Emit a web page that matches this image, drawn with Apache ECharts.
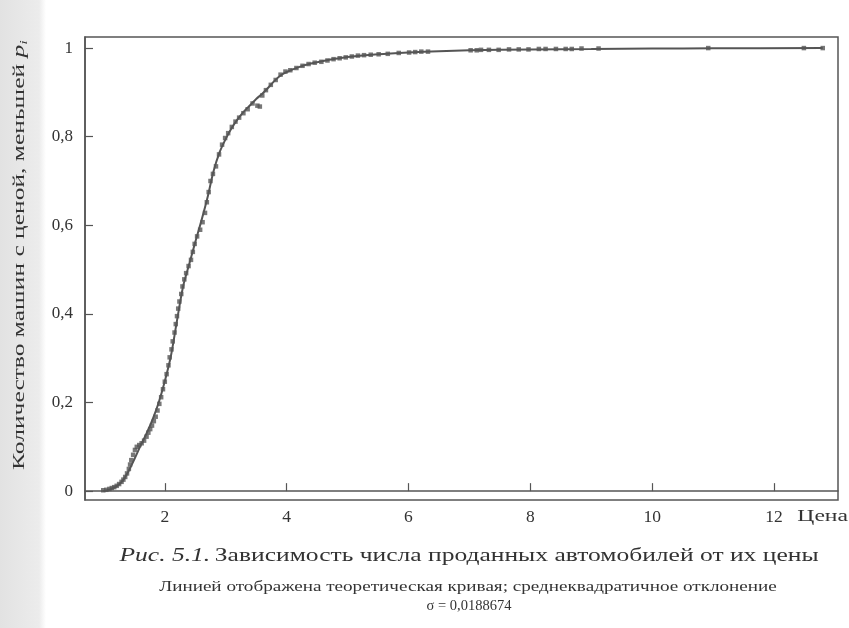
<!DOCTYPE html>
<html>
<head>
<meta charset="utf-8">
<script src="https://cdn.jsdelivr.net/npm/echarts@6/dist/echarts.min.js"></script>
<style>html,body{margin:0;padding:0;background:#fff}#c{width:849px;height:628px}</style>
</head>
<body>
<div id="c"></div>
<script>
// Observed points: price and share of cars with a lower price
var obsPrice = [0.99,1.04,1.09,1.13,1.17,1.21,1.25,1.29,1.32,1.35,1.38,1.41,1.43,1.45,1.48,1.51,1.54,1.58,1.62,1.66,1.70,1.73,1.76,1.79,1.82,1.85,1.88,1.91,1.94,1.97,2.00,2.03,2.06,2.08,2.11,2.13,2.16,2.18,2.20,2.22,2.24,2.27,2.29,2.32,2.35,2.39,2.43,2.46,2.49,2.53,2.58,2.62,2.66,2.69,2.72,2.75,2.79,2.84,2.89,2.94,2.99,3.04,3.10,3.16,3.22,3.29,3.36,3.44,3.52,3.56,3.60,3.66,3.74,3.82,3.90,3.98,4.06,4.16,4.26,4.36,4.46,4.57,4.67,4.77,4.87,4.97,5.07,5.17,5.27,5.38,5.51,5.66,5.84,6.01,6.11,6.21,6.32,7.02,7.12,7.19,7.32,7.48,7.65,7.81,7.97,8.14,8.25,8.42,8.58,8.68,8.84,9.12,10.92,12.49,12.80];
var obsShare = [0.002,0.003,0.005,0.007,0.009,0.012,0.016,0.021,0.026,0.032,0.040,0.050,0.060,0.070,0.082,0.093,0.100,0.104,0.108,0.114,0.123,0.132,0.140,0.148,0.158,0.168,0.182,0.197,0.212,0.230,0.247,0.264,0.284,0.302,0.320,0.338,0.358,0.377,0.395,0.412,0.428,0.445,0.462,0.478,0.492,0.508,0.522,0.540,0.558,0.575,0.590,0.607,0.628,0.652,0.675,0.700,0.716,0.733,0.760,0.782,0.797,0.808,0.822,0.834,0.843,0.853,0.862,0.875,0.870,0.868,0.893,0.905,0.917,0.928,0.940,0.947,0.950,0.955,0.960,0.964,0.967,0.969,0.972,0.975,0.977,0.979,0.981,0.983,0.984,0.985,0.986,0.987,0.989,0.990,0.991,0.992,0.992,0.995,0.995,0.996,0.996,0.996,0.997,0.997,0.997,0.998,0.998,0.998,0.998,0.998,0.999,0.999,1.0,1.0,1.0];
// Theoretical curve
var curvePrice = [0.99,1.1,1.2,1.3,1.4,1.5,1.6,1.7,1.8,1.9,2.0,2.1,2.2,2.3,2.4,2.5,2.6,2.7,2.8,2.9,3.0,3.1,3.2,3.3,3.4,3.5,3.6,3.7,3.8,3.9,4.0,4.2,4.4,4.6,4.8,5.0,5.5,6.0,6.5,7.0,8.0,9.0,10.0,11.0,12.8];
var curveShare = [0.0,0.004,0.010,0.022,0.044,0.072,0.102,0.130,0.162,0.200,0.248,0.305,0.385,0.462,0.512,0.562,0.610,0.662,0.722,0.765,0.795,0.820,0.840,0.857,0.871,0.885,0.897,0.911,0.926,0.938,0.946,0.957,0.965,0.971,0.976,0.980,0.986,0.990,0.993,0.995,0.997,0.998,0.999,0.9995,1.0];
var xTicks = [2,4,6,8,10,12];
var yTicks = [0,0.2,0.4,0.6,0.8,1];

var font = '"Liberation Serif","DejaVu Serif",serif';
var obs = obsPrice.map(function(x,i){return [x, obsShare[i]];});
var curve = curvePrice.map(function(x,i){return [x, curveShare[i]];});

var chart = echarts.init(document.getElementById('c'), null, {renderer:'canvas'});
chart.setOption({
  backgroundColor: '#fff',
  animation: false,
  graphic: [{
    type: 'rect', left: 0, top: 0, z: -10,
    shape: {width: 46, height: 628},
    style: {fill: new echarts.graphic.LinearGradient(0,0,1,0,[{offset:0,color:'#e2e2e2'},{offset:0.85,color:'#ececec'},{offset:1,color:'#ffffff'}])}
  },{
    type: 'text', x: 20, y: 255, rotation: Math.PI/2, scaleX: 1.5,
    style: {
      text: '{n|Количество машин с ценой, меньшей }{p|p}{s|i}',
      textAlign: 'center', textVerticalAlign: 'middle',
      rich: {n: {fontFamily: font, fontSize: 17, fill: '#333'},
             p: {fontFamily: font, fontSize: 17, fontStyle: 'italic', fill: '#333'},
             s: {fontFamily: font, fontSize: 11, fontStyle: 'italic', fill: '#333', padding: [8,0,0,0]}}
    }
  },{
    type: 'text', x: 848, y: 516, scaleX: 1.35,
    style: {text: 'Цена', fontFamily: font, fontSize: 17.5, fill: '#333', textAlign: 'right', textVerticalAlign: 'middle'}
  },{
    type: 'text', x: 469, y: 556, scaleX: 1.38,
    style: {
      text: '{i|Рис. 5.1.} {n|Зависимость числа проданных автомобилей от их цены}',
      textAlign: 'center', textVerticalAlign: 'middle',
      rich: {i: {fontFamily: font, fontSize: 18.5, fontStyle: 'italic', fill: '#333'},
             n: {fontFamily: font, fontSize: 18.5, fill: '#333'}}
    }
  },{
    type: 'text', x: 468, y: 587, scaleX: 1.32,
    style: {text: 'Линией отображена теоретическая кривая; среднеквадратичное отклонение',
      fontFamily: font, fontSize: 14.5, fill: '#333', textAlign: 'center', textVerticalAlign: 'middle'}
  },{
    type: 'text', x: 469, y: 606,
    style: {text: 'σ = 0,0188674', fontFamily: font, fontSize: 14.5, fill: '#333', textAlign: 'center', textVerticalAlign: 'middle'}
  }],
  grid: {left: 85, right: 11, top: 37, bottom: 128, show: true, borderColor: '#555', borderWidth: 1.5, backgroundColor: 'transparent'},
  xAxis: {
    type: 'value', min: 0.69, max: 13.05,
    axisLine: {show: true, lineStyle: {color: '#555', width: 1.5}},
    axisTick: {show: true, inside: true, length: 8, customValues: xTicks, lineStyle: {color: '#555', width: 1.2}},
    axisLabel: {customValues: xTicks, margin: 8, fontFamily: font, fontSize: 17.5, color: '#333'},
    splitLine: {show: false}
  },
  yAxis: {
    type: 'value', min: -0.02, max: 1.025,
    axisLine: {show: true, lineStyle: {color: '#555', width: 1.5}},
    axisTick: {show: true, inside: true, length: 8, customValues: yTicks, lineStyle: {color: '#555', width: 1.2}},
    axisLabel: {customValues: yTicks, margin: 12, fontFamily: font, fontSize: 17, color: '#333',
      formatter: function(v){ return String(Math.round(v*10)/10).replace('.', ','); }},
    splitLine: {show: false}
  },
  series: [{
    type: 'line', data: curve, showSymbol: false, smooth: 0.3,
    lineStyle: {color: '#555', width: 2}, z: 2
  },{
    type: 'scatter', data: obs, symbol: 'rect', symbolSize: 4.5,
    itemStyle: {color: '#555'}, z: 3
  }]
});
</script>
</body>
</html>
